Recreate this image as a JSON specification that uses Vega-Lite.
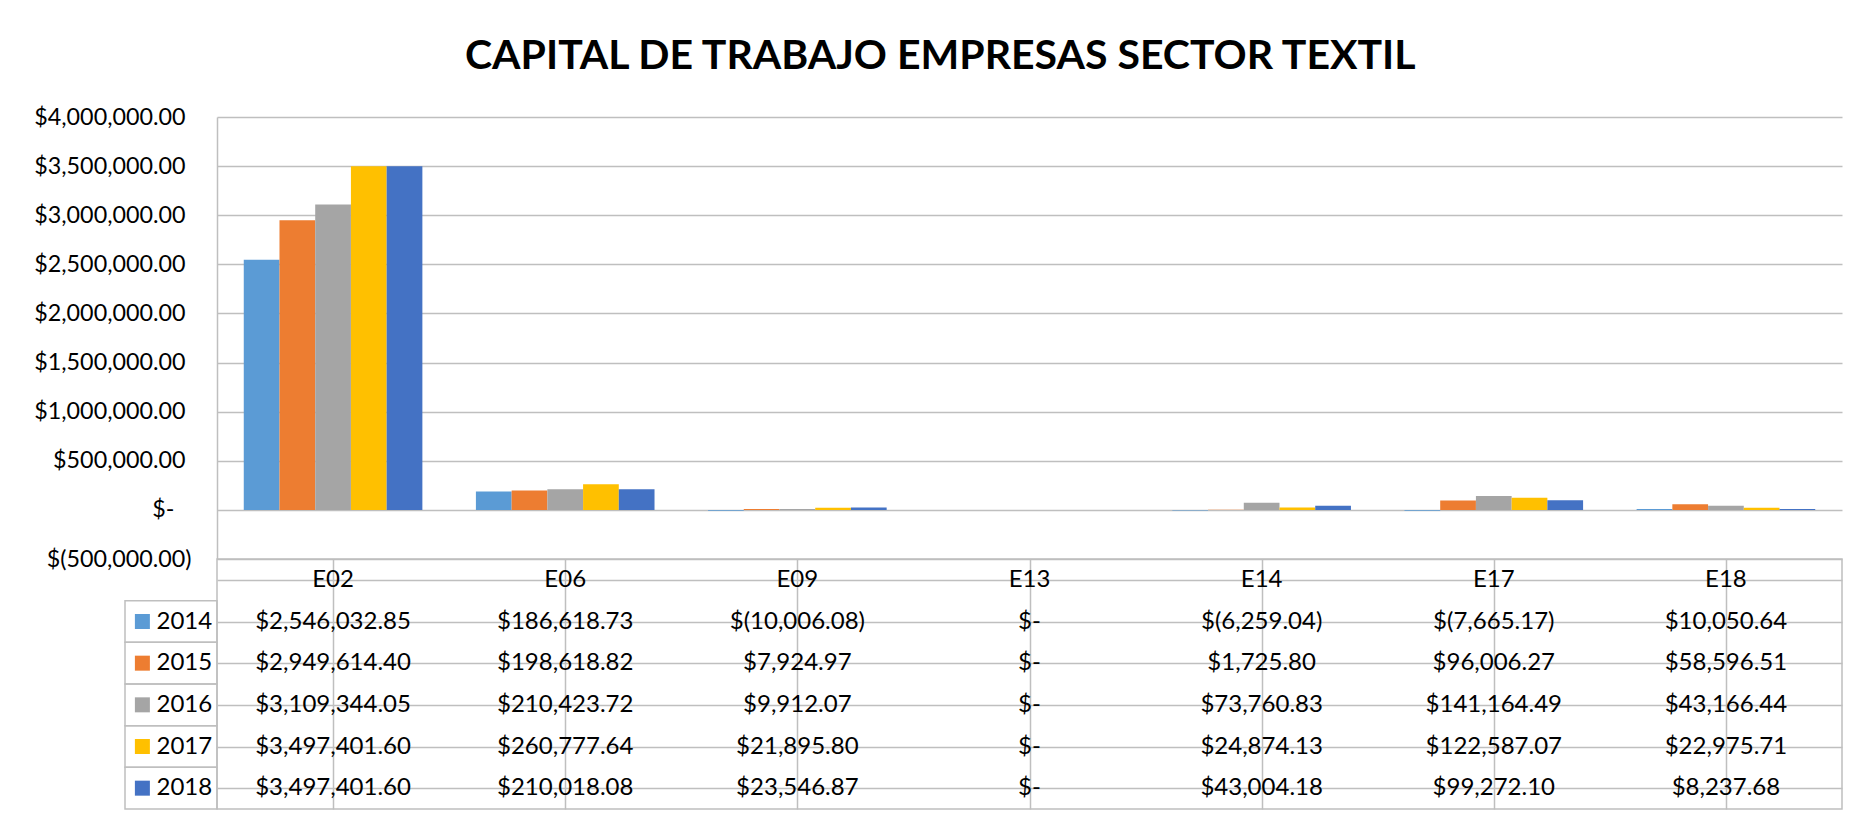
{
  "$schema": "https://vega.github.io/schema/vega-lite/v6.json",
  "background": "white",
  "autosize": {"type": "pad"},
  "padding": {"left": 33, "top": 36, "right": 0, "bottom": 0},
  "title": {
    "text": "CAPITAL DE TRABAJO EMPRESAS SECTOR TEXTIL",
    "font": "Lato",
    "fontSize": 41,
    "fontWeight": "bold",
    "color": "#000000",
    "anchor": "start",
    "frame": "group",
    "dx": 340,
    "offset": 27
  },
  "config": {
    "font": "Lato",
    "view": {"stroke": null},
    "text": {"font": "Lato", "fontSize": 24, "color": "#000000"}
  },
  "data": {
    "values": [
      {"company": "E02", "year": "2014", "value": 2546032.85},
      {"company": "E02", "year": "2015", "value": 2949614.40},
      {"company": "E02", "year": "2016", "value": 3109344.05},
      {"company": "E02", "year": "2017", "value": 3497401.60},
      {"company": "E02", "year": "2018", "value": 3497401.60},
      {"company": "E06", "year": "2014", "value": 186618.73},
      {"company": "E06", "year": "2015", "value": 198618.82},
      {"company": "E06", "year": "2016", "value": 210423.72},
      {"company": "E06", "year": "2017", "value": 260777.64},
      {"company": "E06", "year": "2018", "value": 210018.08},
      {"company": "E09", "year": "2014", "value": -10006.08},
      {"company": "E09", "year": "2015", "value": 7924.97},
      {"company": "E09", "year": "2016", "value": 9912.07},
      {"company": "E09", "year": "2017", "value": 21895.80},
      {"company": "E09", "year": "2018", "value": 23546.87},
      {"company": "E13", "year": "2014", "value": 0},
      {"company": "E13", "year": "2015", "value": 0},
      {"company": "E13", "year": "2016", "value": 0},
      {"company": "E13", "year": "2017", "value": 0},
      {"company": "E13", "year": "2018", "value": 0},
      {"company": "E14", "year": "2014", "value": -6259.04},
      {"company": "E14", "year": "2015", "value": 1725.80},
      {"company": "E14", "year": "2016", "value": 73760.83},
      {"company": "E14", "year": "2017", "value": 24874.13},
      {"company": "E14", "year": "2018", "value": 43004.18},
      {"company": "E17", "year": "2014", "value": -7665.17},
      {"company": "E17", "year": "2015", "value": 96006.27},
      {"company": "E17", "year": "2016", "value": 141164.49},
      {"company": "E17", "year": "2017", "value": 122587.07},
      {"company": "E17", "year": "2018", "value": 99272.10},
      {"company": "E18", "year": "2014", "value": 10050.64},
      {"company": "E18", "year": "2015", "value": 58596.51},
      {"company": "E18", "year": "2016", "value": 43166.44},
      {"company": "E18", "year": "2017", "value": 22975.71},
      {"company": "E18", "year": "2018", "value": 8237.68}
    ]
  },
  "columns": 2,
  "align": "each",
  "bounds": "flush",
  "spacing": 0,
  "concat": [
    {
      "width": 92,
      "height": 442,
      "transform": [{"filter": "datum.company == 'E02' && datum.year == '2014'"}],
      "mark": {"type": "point", "opacity": 0},
      "encoding": {}
    },
    {
      "width": 1625,
      "height": 442,
      "mark": {"type": "bar"},
      "encoding": {
        "x": {
          "field": "company",
          "type": "nominal",
          "scale": {"paddingInner": 0.2306, "paddingOuter": 0.1153},
          "axis": null
        },
        "xOffset": {
          "field": "year",
          "type": "nominal",
          "scale": {"paddingInner": 0, "paddingOuter": 0}
        },
        "y": {
          "field": "value",
          "type": "quantitative",
          "scale": {"domain": [-500000, 4000000], "nice": false},
          "axis": {
            "values": [-500000, 0, 500000, 1000000, 1500000, 2000000, 2500000, 3000000, 3500000, 4000000],
            "title": null,
            "grid": true,
            "gridColor": "#BFBFBF",
            "gridWidth": 1.5,
            "domain": true,
            "domainColor": "#BFBFBF",
            "domainWidth": 1.5,
            "ticks": false,
            "labelFont": "Lato",
            "labelFontSize": 23.3,
            "labelColor": "#000000",
            "labelOverlap": false,
            "labelExpr": "datum.value == 0 ? '$-' : (datum.value < 0 ? '$(' + format(-datum.value, ',.2f') + ')' : '$' + format(datum.value, ',.2f'))",
            "labelPadding": {
              "condition": [
                {"test": "datum.value == 0", "value": 43},
                {"test": "datum.value < 0", "value": 26}
              ],
              "value": 32
            }
          }
        },
        "color": {
          "field": "year",
          "type": "nominal",
          "scale": {
            "domain": ["2014", "2015", "2016", "2017", "2018"],
            "range": ["#5B9BD5", "#ED7D31", "#A5A5A5", "#FFC000", "#4472C4"]
          },
          "legend": null
        }
      }
    },
    {
      "width": 92,
      "height": 250,
      "transform": [{"filter": "datum.company == 'E02'"}],
      "resolve": {"scale": {"x": "independent"}},
      "layer": [
        {
          "mark": {"type": "rect", "filled": false, "stroke": "#BFBFBF", "strokeWidth": 1.5},
          "encoding": {
            "y": {
              "field": "year",
              "type": "nominal",
              "scale": {"domain": ["hdr", "2014", "2015", "2016", "2017", "2018"], "paddingInner": 0, "paddingOuter": 0},
              "axis": null
            }
          }
        },
        {
          "mark": {"type": "point", "shape": "square", "filled": true, "size": 225, "opacity": 1},
          "encoding": {
            "x": {
              "field": "company",
              "type": "nominal",
              "scale": {"type": "point", "padding": 0.5, "align": 0.189},
              "axis": null
            },
            "y": {"field": "year", "type": "nominal", "axis": null},
            "color": {
              "field": "year",
              "type": "nominal",
              "scale": {
                "domain": ["2014", "2015", "2016", "2017", "2018"],
                "range": ["#5B9BD5", "#ED7D31", "#A5A5A5", "#FFC000", "#4472C4"]
              },
              "legend": null
            }
          }
        },
        {
          "mark": {"type": "text", "align": "left", "baseline": "middle"},
          "encoding": {
            "x": {
              "field": "company",
              "type": "nominal",
              "scale": {"type": "point", "padding": 0.5, "align": 0.342},
              "axis": null
            },
            "y": {"field": "year", "type": "nominal", "axis": null},
            "text": {"field": "year"}
          }
        }
      ]
    },
    {
      "width": 1625,
      "height": 250,
      "view": {"stroke": "#BFBFBF", "strokeWidth": 1.5},
      "layer": [
        {
          "transform": [
            {"calculate": "datum.value == 0 ? '$-' : (datum.value < 0 ? '$(' + format(-datum.value, ',.2f') + ')' : '$' + format(datum.value, ',.2f'))", "as": "label"}
          ],
          "mark": {"type": "text", "align": "center", "baseline": "middle"},
          "encoding": {
            "x": {
              "field": "company",
              "type": "nominal",
              "scale": {"paddingInner": 0, "paddingOuter": 0},
              "axis": {
                "orient": "top",
                "bandPosition": 0,
                "grid": true,
                "gridColor": "#BFBFBF",
                "gridWidth": 1.5,
                "labels": false,
                "ticks": false,
                "domain": false,
                "title": null
              }
            },
            "y": {
              "field": "year",
              "type": "nominal",
              "scale": {"domain": ["hdr", "2014", "2015", "2016", "2017", "2018"], "paddingInner": 0, "paddingOuter": 0},
              "axis": {
                "bandPosition": 0,
                "grid": true,
                "gridColor": "#BFBFBF",
                "gridWidth": 1.5,
                "labels": false,
                "ticks": false,
                "domain": false,
                "title": null
              }
            },
            "text": {"field": "label"}
          }
        },
        {
          "transform": [{"filter": "datum.year == '2014'"}],
          "mark": {"type": "text", "align": "center", "baseline": "middle"},
          "encoding": {
            "x": {"field": "company", "type": "nominal"},
            "y": {"datum": "hdr", "type": "nominal"},
            "text": {"field": "company"}
          }
        }
      ]
    }
  ]
}
